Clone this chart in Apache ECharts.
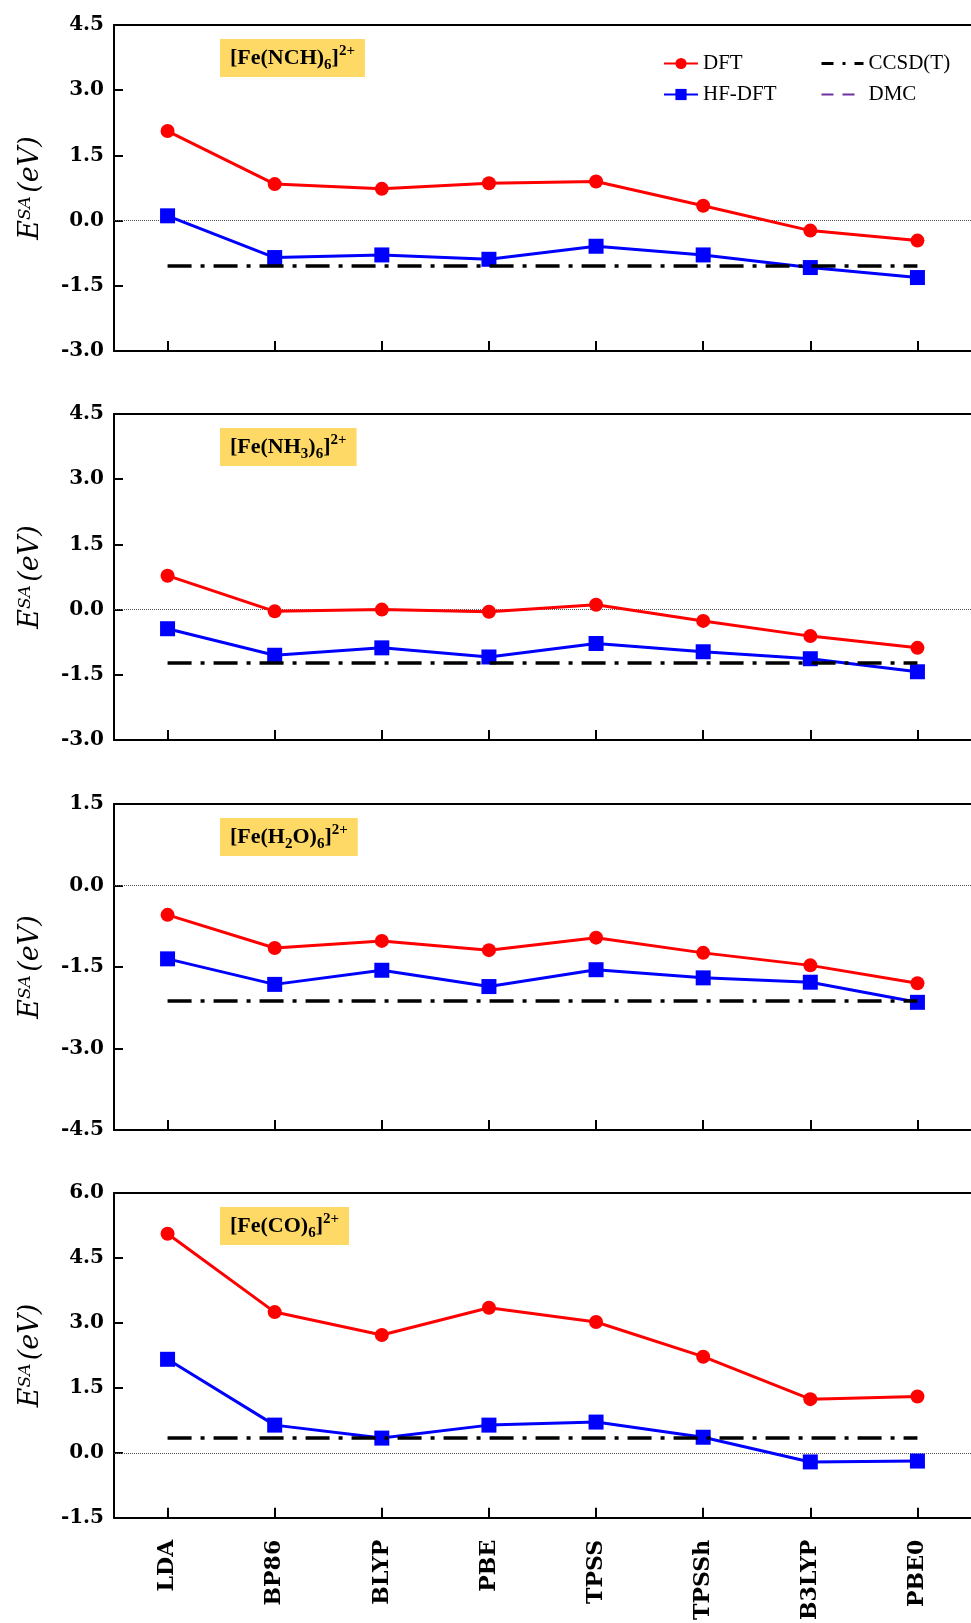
<!DOCTYPE html>
<html>
<head>
<meta charset="utf-8">
<script src="https://cdn.jsdelivr.net/npm/echarts@6/dist/echarts.min.js"></script>
<style>
  html, body { margin: 0; padding: 0; background: #fff; }
  #main { width: 971px; height: 1623px; }
</style>
</head>
<body>
<div id="main"></div>
<script>
const categories = ["LDA", "BP86", "BLYP", "PBE", "TPSS", "TPSSh", "B3LYP", "PBE0"];

// [Fe(NCH)6]2+
const dftNCH = [2.06, 0.84, 0.73, 0.86, 0.90, 0.34, -0.23, -0.46];
const hfNCH = [0.11, -0.85, -0.79, -0.89, -0.59, -0.79, -1.08, -1.31];
const ccsdNCH = -1.04;
// [Fe(NH3)6]2+
const dftNH3 = [0.78, -0.04, 0.0, -0.05, 0.11, -0.26, -0.61, -0.88];
const hfNH3 = [-0.44, -1.05, -0.88, -1.09, -0.78, -0.97, -1.13, -1.43];
const ccsdNH3 = -1.23;
// [Fe(H2O)6]2+
const dftH2O = [-0.54, -1.15, -1.02, -1.19, -0.96, -1.24, -1.47, -1.80];
const hfH2O = [-1.35, -1.82, -1.56, -1.86, -1.55, -1.70, -1.78, -2.15];
const ccsdH2O = -2.13;
// [Fe(CO)6]2+
const dftCO = [5.06, 3.25, 2.72, 3.35, 3.02, 2.22, 1.24, 1.30];
const hfCO = [2.16, 0.64, 0.34, 0.64, 0.71, 0.36, -0.21, -0.19];
const ccsdCO = 0.35;

const panelTitles = [
  "[Fe(NCH){sub|6}]{sup|2+}",
  "[Fe(NH{sub|3}){sub|6}]{sup|2+}",
  "[Fe(H{sub|2}O){sub|6}]{sup|2+}",
  "[Fe(CO){sub|6}]{sup|2+}"
];
const yMins = [-3.0, -3.0, -4.5, -1.5];
const yMaxs = [4.5, 4.5, 1.5, 6.0];

const panels = [
  { dft: dftNCH, hf: hfNCH, ccsd: ccsdNCH },
  { dft: dftNH3, hf: hfNH3, ccsd: ccsdNH3 },
  { dft: dftH2O, hf: hfH2O, ccsd: ccsdH2O },
  { dft: dftCO, hf: hfCO, ccsd: ccsdCO }
];

const gridTops = [25, 414, 804, 1193];
const gridH = 326;
const serif = "Liberation Serif";
const wideSerif = "DejaVu Serif";

const red = "#FF0000";
const blue = "#0000FF";
const ccsdDash = [24, 9, 4, 9];

var grids = [], xAxes = [], yAxes = [], series = [], titles = [];

panels.forEach(function (p, i) {
  grids.push({ left: 114, right: 0, top: gridTops[i], height: gridH });

  xAxes.push({
    type: "category",
    gridIndex: i,
    data: categories,
    position: "bottom",
    axisLine: { onZero: false, lineStyle: { color: "#000", width: 2 } },
    axisTick: { show: true, inside: true, length: 10, alignWithLabel: true, lineStyle: { width: 2, color: "#000" } },
    axisLabel: {
      show: i === 3,
      rotate: 90,
      margin: 22,
      color: "#000",
      fontFamily: wideSerif,
      fontWeight: "bold",
      fontSize: 22
    }
  });
  // top frame line
  xAxes.push({
    type: "category",
    gridIndex: i,
    data: categories,
    position: "top",
    axisLine: { onZero: false, lineStyle: { color: "#000", width: 2 } },
    axisTick: { show: false },
    axisLabel: { show: false }
  });

  yAxes.push({
    type: "value",
    gridIndex: i,
    min: yMins[i],
    max: yMaxs[i],
    interval: 1.5,
    name: "{i|E}{s|SA} {i|(eV)}",
    nameLocation: "middle",
    nameGap: 70,
    nameTextStyle: {
      rich: {
        i: { fontFamily: wideSerif, fontStyle: "italic", fontSize: 27, color: "#000" },
        s: { fontFamily: wideSerif, fontStyle: "italic", fontSize: 17, color: "#000", verticalAlign: "top" }
      }
    },
    axisLine: { show: true, onZero: false, lineStyle: { color: "#000", width: 2 } },
    axisTick: { show: true, inside: true, length: 9, lineStyle: { width: 2, color: "#000" } },
    splitLine: { show: false },
    axisLabel: {
      margin: 10,
      color: "#000",
      fontFamily: wideSerif,
      fontWeight: "bold",
      fontSize: 20,
      formatter: function (v) { return v.toFixed(1); }
    }
  });

  titles.push({
    text: panelTitles[i],
    left: 220,
    top: gridTops[i] + 15,
    backgroundColor: "#FFD966",
    padding: [4, 10, 4, 10],
    textStyle: {
      fontFamily: serif,
      fontWeight: "bold",
      fontSize: 22,
      color: "#000",
      lineHeight: 29,
      rich: {
        sub: { fontFamily: serif, fontWeight: "bold", fontSize: 15, color: "#000", verticalAlign: "bottom", lineHeight: 14, padding: [15, 0, 0, 0] },
        sup: { fontFamily: serif, fontWeight: "bold", fontSize: 15, color: "#000", verticalAlign: "top", lineHeight: 14 }
      }
    }
  });

  series.push({
    name: "DFT",
    type: "line",
    xAxisIndex: i * 2,
    yAxisIndex: i,
    data: p.dft,
    symbol: "circle",
    symbolSize: 14,
    color: red,
    lineStyle: { color: red, width: 3 },
    itemStyle: { color: red },
    z: 3,
    markLine: {
      silent: true,
      symbol: "none",
      label: { show: false },
      lineStyle: { type: "dotted", color: "#555", width: 1 },
      data: [{ yAxis: 0 }],
      z: 1
    }
  });
  series.push({
    name: "HF-DFT",
    type: "line",
    xAxisIndex: i * 2,
    yAxisIndex: i,
    data: p.hf,
    symbol: "rect",
    symbolSize: 15,
    color: blue,
    lineStyle: { color: blue, width: 3 },
    itemStyle: { color: blue },
    z: 3
  });
  series.push({
    name: "CCSD(T)",
    type: "line",
    xAxisIndex: i * 2,
    yAxisIndex: i,
    data: [],
    symbol: "none",
    color: "#000",
    lineStyle: { color: "#000", width: 3, type: ccsdDash },
    markLine: {
      silent: true,
      symbol: "none",
      label: { show: false },
      lineStyle: { color: "#000", width: 3.5, type: ccsdDash },
      data: [[{ coord: [categories[0], p.ccsd] }, { coord: [categories[categories.length - 1], p.ccsd] }]],
      z: 10
    }
  });
  series.push({
    name: "DMC",
    type: "line",
    xAxisIndex: i * 2,
    yAxisIndex: i,
    data: [],
    symbol: "none",
    color: "#7030A0",
    lineStyle: { color: "#7030A0", width: 2, type: [12, 9] }
  });
});

const legendText = { fontFamily: serif, fontSize: 21, color: "#000" };

var option = {
  backgroundColor: "#fff",
  animation: false,
  title: titles,
  grid: grids,
  xAxis: xAxes,
  yAxis: yAxes,
  legend: [
    {
      orient: "vertical",
      left: 658,
      top: 48,
      itemWidth: 34,
      itemHeight: 14,
      itemGap: 10,
      textStyle: legendText,
      data: [{ name: "DFT" }, { name: "HF-DFT" }]
    },
    {
      orient: "vertical",
      left: 815,
      top: 48,
      itemWidth: 42,
      itemHeight: 14,
      itemGap: 10,
      textStyle: legendText,
      data: [
        { name: "CCSD(T)", itemStyle: { opacity: 0 }, lineStyle: { type: [12, 9, 3, 9], width: 3 } },
        { name: "DMC", itemStyle: { opacity: 0 }, lineStyle: { type: [12, 9], width: 2 } }
      ]
    }
  ],
  series: series
};

var myChart = echarts.init(document.getElementById("main"));
myChart.setOption(option);
window.onresize = function () {
  myChart.resize();
};
</script>
</body>
</html>
